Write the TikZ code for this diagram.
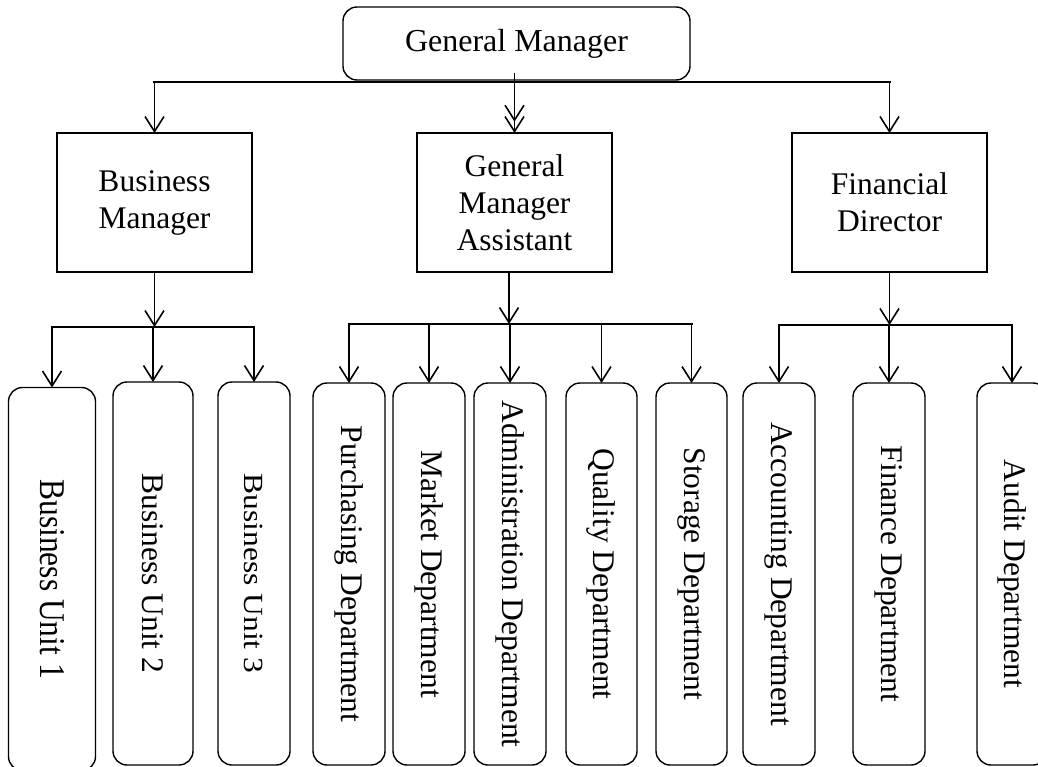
\documentclass[tikz,border=0pt]{standalone}
\usepackage{fontspec}
\setmainfont{Liberation Serif}
\usetikzlibrary{arrows.meta,calc}

\begin{document}
\begin{tikzpicture}[x=1pt,y=-1pt,
  every node/.style={inner sep=0pt, outer sep=0pt},
  headbox/.style={draw, line width=1.4pt, rounded corners=14pt,
    minimum width=347pt, minimum height=73pt, font=\fontsize{32}{38}\selectfont},
  midbox/.style={draw, line width=1.4pt, minimum width=195pt, minimum height=139pt,
    align=center, font=\fontsize{31.5}{37}\selectfont},
  unitbox/.style={draw, line width=1.4pt, rounded corners=14pt,
    minimum width=72pt, minimum height=382pt, font=\fontsize{31.5}{37}\selectfont},
  link/.style={line width=1.6pt, -{Straight Barb[length=15pt,width=19pt]}},
  dlink/.style={line width=1.6pt,
    -{Straight Barb[length=15pt,width=19pt,sep=-6pt]Straight Barb[length=15pt,width=19pt]}},
  bus/.style={line width=2.6pt, line cap=rect}
]
\useasboundingbox (0,0) rectangle (1038,767);
\clip (0,0) rectangle (1038,767);
\fill[white] (0,0) rectangle (1038,767);

% top level
\node[headbox] (gm) at (516.5,43.5) {General Manager};

% second level
\node[midbox] (bm)  at (154.5,202.5) {Business\\Manager};
\node[midbox] (gma) at (514.5,202.5) {General\\Manager\\Assistant};
\node[midbox] (fd)  at (889.5,202.5) {Financial\\Director};

% third level: vertical boxes
\node[unitbox, minimum width=87pt, minimum height=383pt] (bu1) at (52,579)
  {\rotatebox{-90}{\scalebox{1}[1.15]{Business Unit 1}}};
\node[unitbox, minimum width=80pt, minimum height=383pt] (bu2) at (153,573.5)
  {\rotatebox{-90}{Business Unit 2}};
\node[unitbox, minimum height=383pt] (bu3) at (254,573.5)
  {\rotatebox{-90}{\scalebox{1}[0.88]{Business Unit 3}}};

\node[unitbox] (pur) at (349,574)   {\rotatebox{-90}{Purchasing Department}};
\node[unitbox] (mkt) at (429,574)   {\rotatebox{-90}{Market Department}};
\node[unitbox] (adm) at (510,574)   {\rotatebox{-90}{Administration Department}};
\node[unitbox, minimum width=71pt] (qua) at (601.5,574) {\rotatebox{-90}{Quality Department}};
\node[unitbox, minimum width=71pt] (sto) at (691.5,574) {\rotatebox{-90}{Storage Department}};

\node[unitbox] (acc) at (779,574)   {\rotatebox{-90}{Accounting Department}};
\node[unitbox] (fin) at (889,574)   {\rotatebox{-90}{Finance Department}};
\node[unitbox, minimum width=70pt] (aud) at (1012,574) {\rotatebox{-90}{Audit Department}};

% connectors from the general manager
\coordinate (topbus) at ($(gm.south)+(0,2)$);
\draw[bus, line width=2.2pt] (bm.north |- topbus) -- (fd.north |- topbus);
\draw[link] (bm.north |- topbus) -- (bm.north);
\draw[link] (fd.north |- topbus) -- (fd.north);
\draw[dlink] ($(gma.north |- gm.south)+(0,-7)$) -- (gma.north);

% business manager branch
\coordinate (bmbus) at ($(bm.south)+(0,55)$);
\draw[link] (bm.south) -- (bmbus);
\draw[bus] (bu1.north |- bmbus) -- (bu3.north |- bmbus);
\foreach \n in {bu1,bu2,bu3}
  \draw[link] (\n.north |- bmbus) -- (\n.north);

% assistant branch
\coordinate (gmabus) at (509,324);
\draw[link] (gmabus |- gma.south) -- (gmabus);
\draw[bus] (pur.north |- gmabus) -- (sto.north |- gmabus);
\foreach \n in {pur,mkt,adm,qua,sto}
  \draw[link] (\n.north |- gmabus) -- (\n.north);

% financial director branch
\coordinate (fdbus) at ($(fd.south)+(0,53)$);
\draw[link] (fd.south) -- (fdbus);
\draw[bus] (acc.north |- fdbus) -- (aud.north |- fdbus);
\foreach \n in {acc,fin,aud}
  \draw[link] (\n.north |- fdbus) -- (\n.north);
\end{tikzpicture}
\end{document}
